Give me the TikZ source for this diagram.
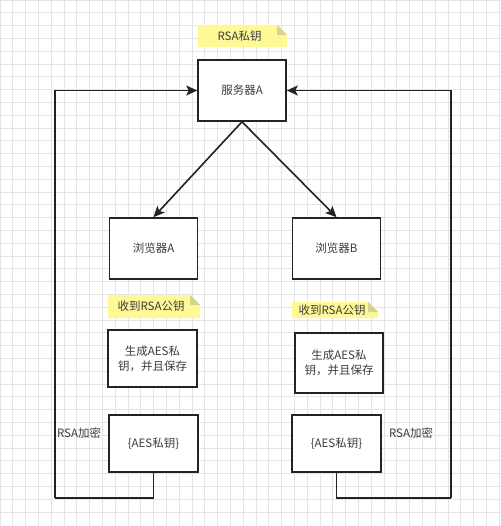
\documentclass[tikz,border=0pt]{standalone}
\usepackage{fontspec}
\setmainfont{Noto Sans CJK SC}
\usetikzlibrary{arrows.meta}
\definecolor{gridc}{RGB}{228,228,228}
\definecolor{linec}{RGB}{35,35,35}
\definecolor{notey}{RGB}{255,248,150}
\definecolor{notef}{RGB}{214,212,140}
\definecolor{textc}{RGB}{60,60,60}
\tikzset{
  box/.style={draw=linec, line width=1.6pt, fill=white, minimum width=88pt, minimum height=61pt, inner sep=0pt, text=textc, font=\fontsize{11.5}{15}\selectfont, align=center},
  conn/.style={draw=linec, line width=1.6pt, -{Stealth[length=11pt,width=10pt,inset=2.5pt]}},
  plain/.style={draw=linec, line width=1.6pt},
  lbl/.style={text=textc, font=\fontsize{11.5}{13}\selectfont, inner sep=0pt},
}
\newcommand{\mynote}[6]{% x1 y1 x2 y2 name text
  \fill[notey] (#1,#2) -- (#3-10,#2) -- (#3,#2+10) -- (#3,#4) -- (#1,#4) -- cycle;
  \fill[notef] (#3-10,#2) -- (#3-10,#2+10) -- (#3,#2+10) -- cycle;
  \node[lbl] (#5) at ({(#1+#3)/2-3},{(#2+#4)/2}) {#6};
}
\begin{document}
\begin{tikzpicture}[x=1pt,y=-1pt]
\useasboundingbox (0,0) rectangle (500,526);
\fill[white] (0,0) rectangle (500,526);
\foreach \i in {0,...,40} {
  \draw[gridc, line width=0.7pt] ({12.8*\i},0) -- ({12.8*\i},526);
  \draw[gridc, line width=0.7pt] (0,{12.8*\i}) -- (500,{12.8*\i});
}
% notes
\mynote{198}{25}{287}{47}{n1}{RSA私钥}
\mynote{108}{295}{200}{318}{n2}{收到RSA公钥}
\mynote{292}{302}{378}{318}{n3}{收到RSA公钥}
% boxes
\node[box] (srv) at (242,90.5) {服务器A};
\node[box] (ba) at (153.5,248.5) {浏览器A};
\node[box] (bb) at (336.5,248.5) {浏览器B};
\node[box, minimum width=89pt, minimum height=57pt] (ga) at (152.5,358.5) {生成AES私\\钥，并且保存};
\node[box, minimum width=88pt, minimum height=60pt] (gb) at (339,363) {生成AES私\\钥，并且保存};
\node[box, minimum width=89pt, minimum height=57pt] (aa) at (153.5,443.5) {\{AES私钥\}};
\node[box, minimum width=89pt, minimum height=57pt] (ab) at (336.5,443.5) {\{AES私钥\}};
% labels
\node[lbl] (la) at (79,433) {RSA加密};
\node[lbl] (lb) at (411,433) {RSA加密};
% connectors
\coordinate (cl) at (55,498);
\coordinate (cr) at (451,498);
\draw[conn] (srv.south) -- (ba.north);
\draw[conn] (srv.south) -- (bb.north);
\draw[plain] (aa.south) |- (cl);
\draw[conn] (cl) |- (srv.west);
\draw[plain] (ab.south) |- (cr);
\draw[conn] (cr) |- (srv.east);
\end{tikzpicture}
\end{document}
